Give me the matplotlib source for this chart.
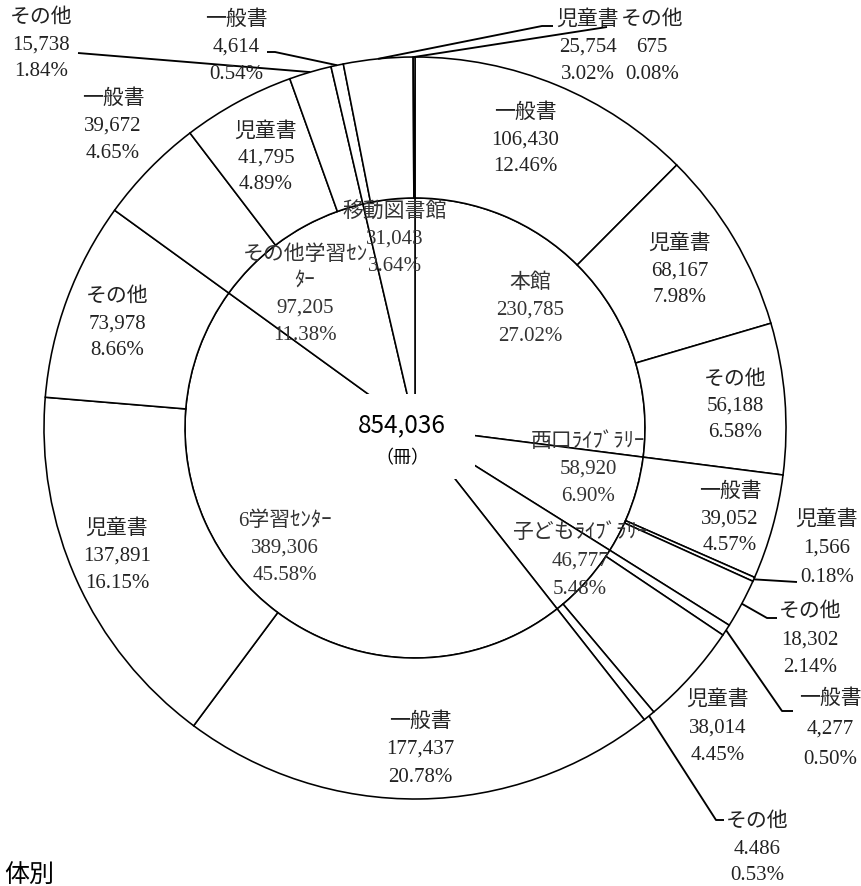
import numpy as np
import matplotlib
matplotlib.use("Agg")
import matplotlib.pyplot as plt
from matplotlib.patches import Rectangle

# ---------------- data ----------------
branches = ["本館", "西口ﾗｲﾌﾞﾗﾘｰ", "子どもﾗｲﾌﾞﾗﾘｰ", "6学習ｾﾝﾀｰ", "その他学習ｾﾝ\nﾀｰ", "移動図書館"]
branch_values = [230785, 58920, 46777, 389306, 97205, 31043]
branch_pcts = ["27.02%", "6.90%", "5.48%", "45.58%", "11.38%", "3.64%"]

kinds = ["一般書", "児童書", "その他"]
kind_values = [
    [106430, 68167, 56188],   # 本館
    [39052, 1566, 18302],     # 西口
    [4277, 38014, 4486],      # 子ども
    [177437, 137891, 73978],  # 6学習センター
    [39672, 41795, 15738],    # その他学習センター
    [4614, 25754, 675],       # 移動図書館
]
kind_value_text = [
    ["106,430", "68,167", "56,188"],
    ["39,052", "1,566", "18,302"],
    ["4,277", "38,014", "4.486"],
    ["177,437", "137,891", "73,978"],
    ["39,672", "41,795", "15,738"],
    ["4,614", "25,754", "675"],
]
kind_pcts = [
    ["12.46%", "7.98%", "6.58%"],
    ["4.57%", "0.18%", "2.14%"],
    ["0.50%", "4.45%", "0.53%"],
    ["20.78%", "16.15%", "8.66%"],
    ["4.65%", "4.89%", "1.84%"],
    ["0.54%", "3.02%", "0.08%"],
]
total_text = "854,036"
unit_text = "（冊）"
title_text = "体別"

# ---------------- layout (pixels) ----------------
W, H = 861, 887
CX, CY, R = 415, 429, 371
R_IN = 0.62

def P(px, py):
    return ((px - CX) / R, (CY - py) / R)

# inner label positions (center x, first line y, spacing)
inner_pos = [(530, 283, 27), (588, 442, 27.5), (580, 533, 28.5),
             (285, 521, 27), (305, 255, 26.7), (395, 212, 27.5)]
# outer label positions
outer_pos = [
    [(525, 113, 27), (680, 244, 27), (735, 380, 26.5)],
    [(730, 492, 27), (827, 520, 28.5), (810, 612, 28)],
    [(830, 699, 30.5), (718, 700, 28), (757, 822, 27)],
    [(420, 722, 27.5), (117, 529, 27), (117, 297, 27)],
    [(113, 99, 27.5), (266, 132, 26.5), (41, 18, 27)],
    [(236, 20, 27.5), (588, 20, 27.5), (652, 20, 27.5)],
]
# leader lines (waypoints in pixels after start on outer edge)
leaders = {
    (1, 1): [(797, 583)],
    (1, 2): [(767, 619), (777, 619)],
    (2, 0): [(782, 712), (793, 712)],
    (2, 2): [(716, 821), (724, 821)],
    (4, 2): [(78, 54)],
    (5, 0): [(275, 53), (267, 53)],
    (5, 1): [(542, 27), (553, 27)],
    (5, 2): [(607, 28)],
}

LW = 1.15
FONT_LBL = ["Liberation Serif", "Noto Sans CJK JP"]
FS = 15

fig = plt.figure(figsize=(W / 100, H / 100), dpi=100)
ax = fig.add_axes([0, 0, 1, 1])

wp = dict(facecolor="white", edgecolor="black", linewidth=LW)
ax.pie(branch_values, radius=R_IN, startangle=90, counterclock=False,
       wedgeprops=wp)
outer_flat = [v for grp in kind_values for v in grp]
ax.pie(outer_flat, radius=1.0, startangle=90, counterclock=False,
       wedgeprops=dict(width=1.0 - R_IN, **wp))

ax.set_xlim(-CX / R, (W - CX) / R)
ax.set_ylim(-(H - CY) / R, CY / R)
ax.set_aspect("auto")
ax.axis("off")

# white box in the centre
x0, y0 = P(335, 480)
x1, y1 = P(475, 395)
ax.add_patch(Rectangle((x0, y0), x1 - x0, y1 - y0, facecolor="white",
                       edgecolor="none", zorder=5))
ax.text(*P(402, 425), total_text, ha="center", va="center", fontsize=17.5,
        family=["Noto Sans CJK JP", "DejaVu Sans"], zorder=6)
ax.text(*P(402, 458), unit_text, ha="center", va="center", fontsize=13,
        family=["Noto Sans CJK JP", "DejaVu Sans"], zorder=6)

def block(lines, pos, color="#222222"):
    px, py, sp = pos
    for k, s in enumerate(lines):
        ax.text(*P(px, py + k * sp), s, ha="center", va="center",
                fontsize=FS, family=FONT_LBL, color=color, zorder=7)

# inner labels
for i, name in enumerate(branches):
    parts = name.split("\n")
    lines = parts + [f"{branch_values[i]:,}", branch_pcts[i]]
    block(lines, inner_pos[i], color="#333333")

# outer labels + leaders
total = sum(outer_flat)
cum = 0
for i in range(len(kind_values)):
    for j in range(3):
        v = kind_values[i][j]
        mid = cum + v / 2
        cum += v
        block([kinds[j], kind_value_text[i][j], kind_pcts[i][j]], outer_pos[i][j])
        if (i, j) in leaders:
            ang = np.deg2rad(90 - 360 * mid / total)
            xs = [np.cos(ang)]
            ys = [np.sin(ang)]
            for (qx, qy) in leaders[(i, j)]:
                dx, dy = P(qx, qy)
                xs.append(dx)
                ys.append(dy)
            ax.plot(xs, ys, color="black", lw=LW + 0.2, zorder=4,
                    solid_capstyle="butt")

# cut-off title fragment
ax.text(*P(4, 862), title_text, ha="left", va="top", fontsize=18,
        family=["Noto Sans CJK JP", "DejaVu Sans"], zorder=7)

fig.savefig("out.png", dpi=100)
